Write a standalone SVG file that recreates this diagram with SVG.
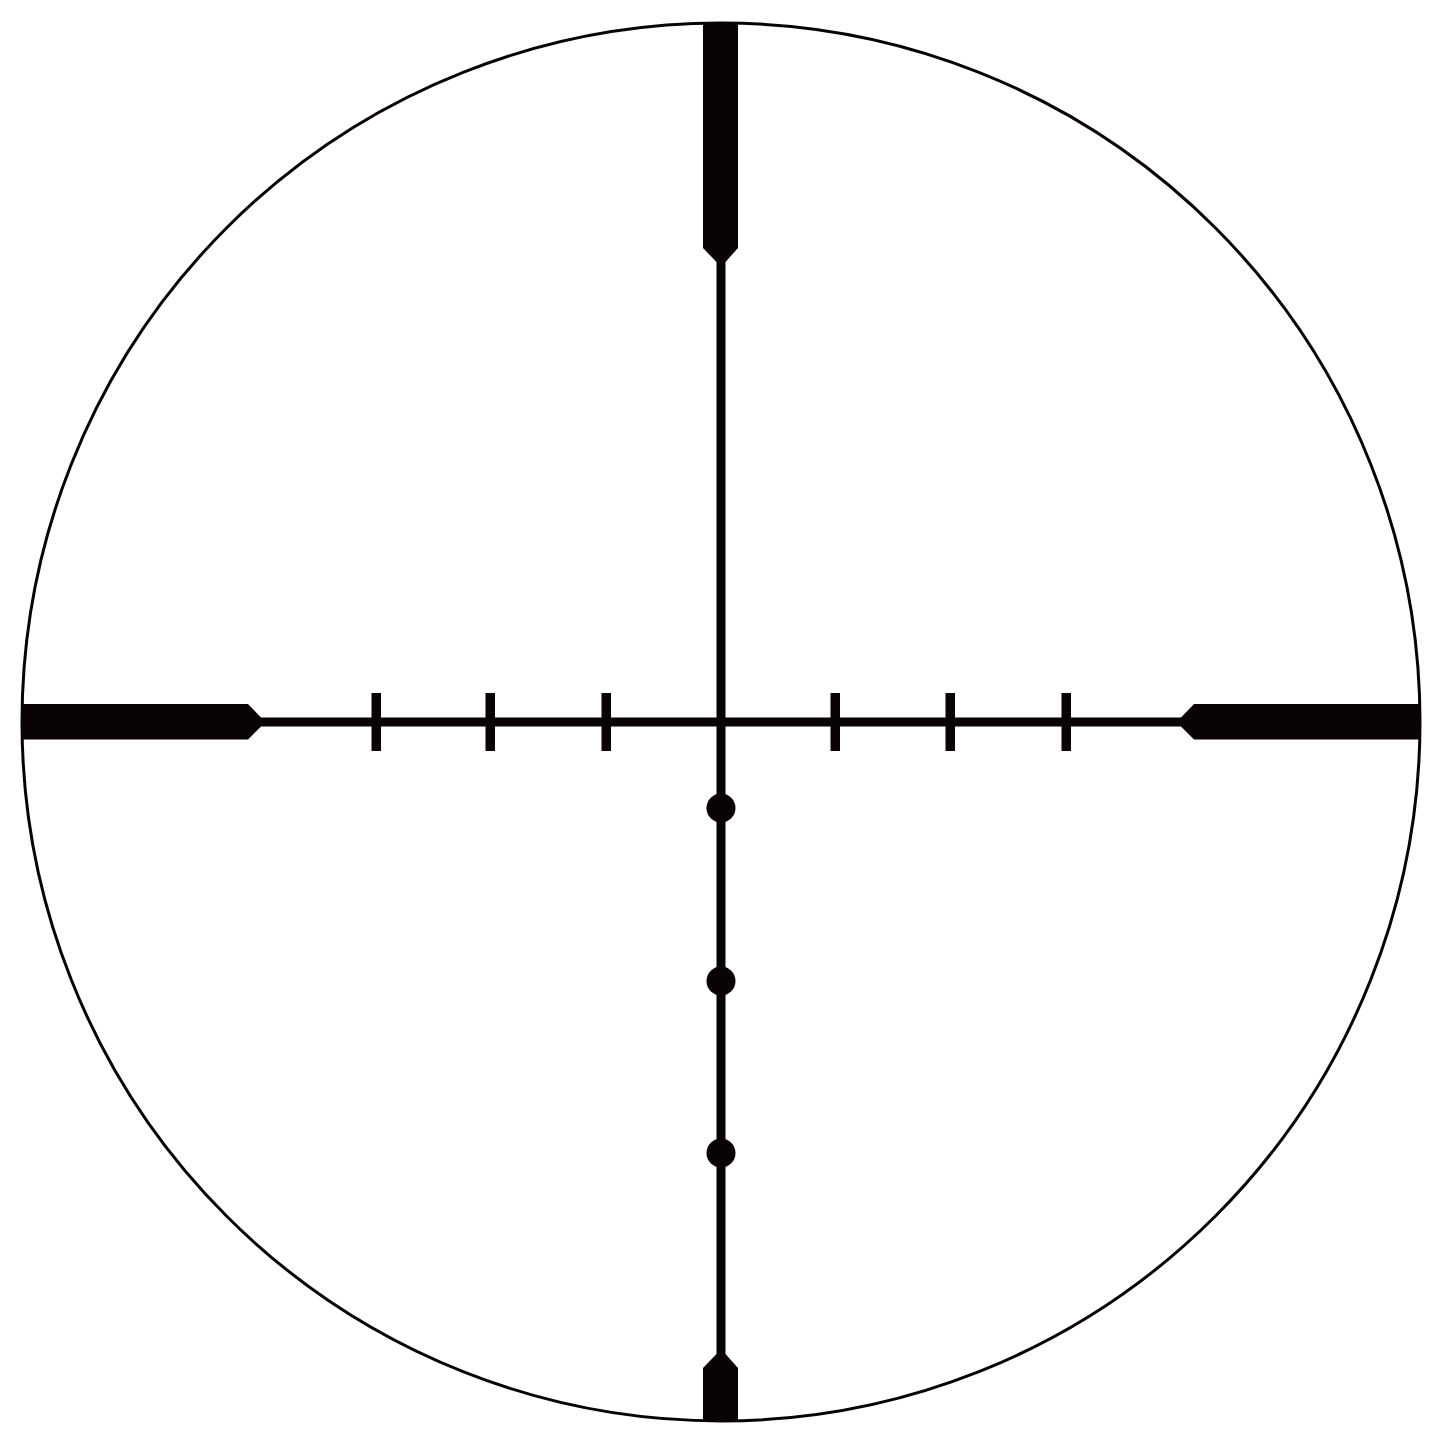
<svg xmlns="http://www.w3.org/2000/svg" width="1445" height="1445" viewBox="0 0 1445 1445">
<style>
.ink{fill:#0a0305;stroke:none}
.line{stroke:#0a0305;fill:none}
</style>
<defs>
<clipPath id="c"><circle cx="721" cy="722" r="699"/></clipPath>
</defs>
<rect width="1445" height="1445" fill="#fff"/>
<g id="reticle" clip-path="url(#c)">
<!-- thin crosshairs -->
<rect class="ink" x="716.5" y="250" width="9" height="1110"/>
<rect class="ink" x="250" y="717.5" width="940" height="9"/>
<!-- posts -->
<polygon class="ink" points="703,0 738,0 738,248 725.5,262 716.5,262 703,248"/>
<polygon class="ink" points="703,1445 738,1445 738,1368 725.5,1354 716.5,1354 703,1368"/>
<polygon class="ink" points="0,704 248,704 261,717.5 261,726.5 248,739.5 0,739.5"/>
<polygon class="ink" points="1445,704 1194,704 1181,717.5 1181,726.5 1194,739.5 1445,739.5"/>
<!-- ticks -->
<rect class="ink" x="371.5" y="693" width="9.5" height="58"/>
<rect class="ink" x="485.5" y="693" width="9.5" height="58"/>
<rect class="ink" x="601.5" y="693" width="9.5" height="58"/>
<rect class="ink" x="830.5" y="693" width="9.5" height="58"/>
<rect class="ink" x="945.5" y="693" width="9.5" height="58"/>
<rect class="ink" x="1061.5" y="693" width="9.5" height="58"/>
<!-- dots -->
<circle class="ink" cx="721" cy="808" r="14.5"/>
<circle class="ink" cx="721" cy="981" r="14.5"/>
<circle class="ink" cx="721" cy="1153" r="14.5"/>
</g>
<circle class="line" cx="721" cy="722" r="699" stroke-width="3"/>
</svg>
